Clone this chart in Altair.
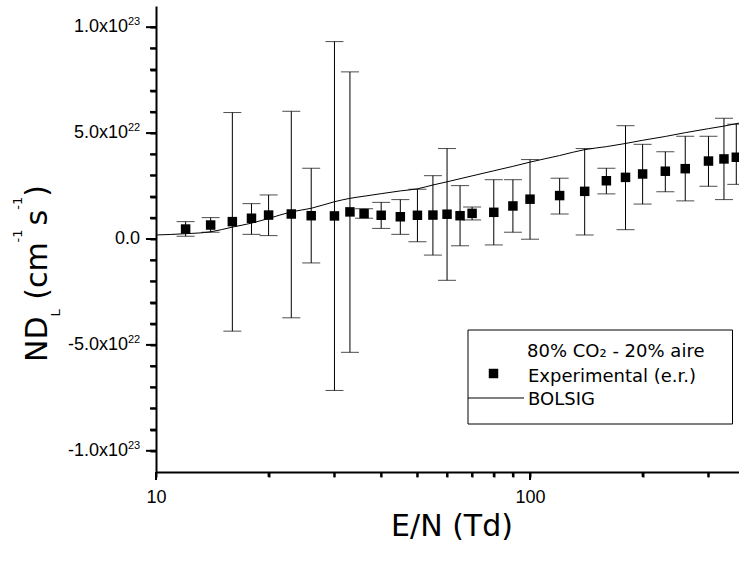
import altair as alt
import pandas as pd

UNIT = 1e22  # values below are in units of 1e22 cm^-1 s^-1

# Experimental points (E/N in Td, ND_L and error-bar ends in 1e22)
exp_en = [12, 14, 16, 18, 20, 23, 26, 30, 33, 36, 40, 45, 50, 55, 60, 65, 70, 80, 90, 100,
          120, 140, 160, 180, 200, 230, 260, 300, 330, 356]
exp_nd = [0.47, 0.66, 0.82, 0.98, 1.13, 1.18, 1.10, 1.09, 1.28, 1.20, 1.12, 1.05, 1.12, 1.13, 1.17,
          1.10, 1.21, 1.26, 1.56, 1.88, 2.05, 2.25, 2.75, 2.91, 3.07, 3.20, 3.32, 3.68, 3.78, 3.86]
exp_hi = [0.82, 1.01, 5.97, 1.67, 2.08, 6.03, 3.34, 9.32, 7.89, 1.43, 1.73, 1.86, 2.35, 2.99, 4.27,
          2.52, 1.51, 2.80, 2.80, 3.75, 2.87, 4.27, 3.34, 5.35, 4.47, 4.12, 4.85, 4.85, 5.70, 5.42]
exp_lo = [0.13, 0.32, -4.35, 0.22, 0.16, -3.72, -1.13, -7.15, -5.35, 0.98, 0.50, 0.22, -0.13, -0.76,
          -1.95, -0.32, 0.90, -0.28, 0.32, -0.01, 1.18, 0.19, 2.13, 0.44, 1.65, 2.23, 1.80, 2.49, 1.86, 2.58]

# BOLSIG curve
bolsig_en = [10, 12, 14, 16, 18, 20, 23, 26, 30, 33, 36, 40, 45, 50, 55, 60, 70, 80, 90, 100,
             120, 140, 160, 180, 200, 230, 260, 300, 330, 362]
bolsig_nd = [0.19, 0.25, 0.34, 0.56, 0.75, 0.97, 1.28, 1.45, 1.76, 1.92, 2.02, 2.14, 2.27, 2.37, 2.55,
             2.70, 2.98, 3.22, 3.43, 3.63, 3.94, 4.22, 4.36, 4.51, 4.66, 4.84, 5.02, 5.21, 5.33, 5.47]

# axis ticks and labels
x_ticks = [10, 20, 30, 40, 50, 60, 70, 80, 90, 100, 200, 300]
x_major = [10, 100]
y_ticks = [k * UNIT for k in range(-10, 11)]
y_major = [k * UNIT for k in (-10, -5, 0, 5, 10)]
ylab_values = [10 * UNIT, 5 * UNIT, -5 * UNIT, -10 * UNIT]
ylab_mantissa = ["1.0x10", "5.0x10", "-5.0x10", "-1.0x10"]
ylab_exponent = ["23", "22", "22", "23"]
ylab_zero = ["0.0"]

legend_title = "80% CO\u2082 - 20% aire"
legend_exp = "Experimental (e.r.)"
legend_bol = "BOLSIG"

exp_df = pd.DataFrame({
    "en": exp_en,
    "nd": [v * UNIT for v in exp_nd],
    "hi": [v * UNIT for v in exp_hi],
    "lo": [v * UNIT for v in exp_lo],
})
bol_df = pd.DataFrame({"en": bolsig_en, "nd": [v * UNIT for v in bolsig_nd]})
ylab_df = pd.DataFrame({"yv": ylab_values, "m": ylab_mantissa, "e": ylab_exponent})
zero_df = pd.DataFrame({"yv": [0.0], "m": ylab_zero})
ymaj_df = pd.DataFrame({"ym": y_major})
ymin_df = pd.DataFrame({"yt": y_ticks})
xmaj_df = pd.DataFrame({"xm": x_major})
xmin_df = pd.DataFrame({"xt": x_ticks})
one = pd.DataFrame({"a": [0]})

W, H = 583, 466
TITLE_FONT = "DejaVu Sans"
TICK_FONT = "Liberation Sans"

xscale = alt.Scale(type="log", domain=[10, 362], nice=False)
yscale = alt.Scale(domain=[-1.1e23, 1.1e23], nice=False, zero=False)

xaxis = alt.Axis(
    values=x_ticks, title="", grid=False,
    labelExpr="(datum.value == 10 || datum.value == 100) ? format(datum.value, 'd') : ''",
    tickSize=5, zindex=1,
    labelFont=TICK_FONT, labelFontSize=18, labelColor="black", labelPadding=11,
    domainColor="black", domainWidth=2, tickColor="black", tickWidth=2,
    labelFlush=False, labelOverlap=False,
)
yaxis = alt.Axis(
    values=y_ticks, title="", grid=False, labels=False,
    tickSize=6, zindex=1,
    domainColor="black", domainWidth=2, tickColor="black", tickWidth=2,
)


def X(field):
    return alt.X(field, type="quantitative", scale=xscale, axis=xaxis)


def Y(field):
    return alt.Y(field, type="quantitative", scale=yscale, axis=yaxis)


bars = alt.Chart(exp_df).mark_rule(color="black", strokeWidth=1).encode(
    x=X("en"), y=Y("lo"), y2="hi:Q")
cap_hi = alt.Chart(exp_df).mark_tick(orient="horizontal", size=18, thickness=1, color="black").encode(
    x=X("en"), y=Y("hi"))
cap_lo = alt.Chart(exp_df).mark_tick(orient="horizontal", size=18, thickness=1, color="black").encode(
    x=X("en"), y=Y("lo"))
squares = alt.Chart(exp_df).mark_square(size=90, color="black", opacity=1, filled=True).encode(
    x=X("en"), y=Y("nd"))
line = alt.Chart(bol_df).mark_line(color="black", strokeWidth=1, interpolate="monotone").encode(
    x=X("en"), y=Y("nd"))

# tick marks (Origin style: longer major ticks), drawn through the scales
ymin = alt.Chart(ymin_df).mark_rule(color="black", strokeWidth=2).encode(
    y=Y("yt"), x=alt.value(-6), x2=alt.value(0))
ymaj = alt.Chart(ymaj_df).mark_rule(color="black", strokeWidth=2).encode(
    y=Y("ym"), x=alt.value(-10), x2=alt.value(0))
xmin = alt.Chart(xmin_df).mark_rule(color="black", strokeWidth=2).encode(
    x=X("xt"), y=alt.value(H), y2=alt.value(H + 5))
xmaj = alt.Chart(xmaj_df).mark_rule(color="black", strokeWidth=2).encode(
    x=X("xm"), y=alt.value(H), y2=alt.value(H + 8))

# y tick labels with superscript exponents, placed through the y scale
ylab_main = alt.Chart(ylab_df).mark_text(font=TICK_FONT, fontSize=18, align="right",
                                         baseline="middle", color="black").encode(
    x=alt.value(-28), y=Y("yv"), text="m:N")
ylab_sup = alt.Chart(ylab_df).mark_text(font=TICK_FONT, fontSize=11, align="left",
                                        baseline="middle", dy=-5, color="black").encode(
    x=alt.value(-28), y=Y("yv"), text="e:N")
ylab_0 = alt.Chart(zero_df).mark_text(font=TICK_FONT, fontSize=18, align="right",
                                      baseline="middle", color="black").encode(
    x=alt.value(-16), y=Y("yv"), text="m:N")

# legend (manual box like Origin)
leg_box = alt.Chart(one).mark_rect(fill="white", stroke="black", strokeWidth=1).encode(
    x=alt.value(312), x2=alt.value(576.5), y=alt.value(324), y2=alt.value(418))
leg_t1 = alt.Chart(one).mark_text(text=legend_title, font=TITLE_FONT, fontSize=18, align="left",
                                  baseline="alphabetic", color="black").encode(
    x=alt.value(371), y=alt.value(351))
leg_t2 = alt.Chart(one).mark_text(text=legend_exp, font=TITLE_FONT, fontSize=18, align="left",
                                  baseline="alphabetic", color="black").encode(
    x=alt.value(372), y=alt.value(375.5))
leg_t3 = alt.Chart(one).mark_text(text=legend_bol, font=TITLE_FONT, fontSize=18, align="left",
                                  baseline="alphabetic", color="black").encode(
    x=alt.value(372), y=alt.value(399))
leg_sq = alt.Chart(one).mark_square(size=90, color="black", opacity=1, filled=True).encode(
    x=alt.value(337.5), y=alt.value(367.5))
leg_ln = alt.Chart(one).mark_rule(color="black", strokeWidth=1).encode(
    x=alt.value(312), x2=alt.value(368), y=alt.value(392))

# axis titles
xtitle = alt.Chart(one).mark_text(text="E/N (Td)", font=TITLE_FONT, fontSize=30, align="center",
                                  baseline="alphabetic", color="black").encode(
    x=alt.value(296), y=alt.value(530))


def ypiece(txt, x, y, size):
    return alt.Chart(one).mark_text(text=txt, font=TITLE_FONT, fontSize=size, align="left",
                                    baseline="alphabetic", angle=270, color="black").encode(
        x=alt.value(x), y=alt.value(y))


ytitle = [
    ypiece("ND", -109, 356, 30),
    ypiece("L", -96, 310.5, 13),
    ypiece("(cm", -109, 293.8, 30),
    ypiece("-1", -134, 236.4, 13),
    ypiece("s", -109, 219.4, 30),
    ypiece("-1", -134, 203.8, 13),
    ypiece(")", -109, 190.8, 30),
]

chart = alt.layer(
    bars, cap_hi, cap_lo, line, squares,
    leg_box, leg_t1, leg_t2, leg_t3, leg_sq, leg_ln,
    ylab_main, ylab_sup, ylab_0,
    xtitle, *ytitle,
    ymin, ymaj, xmin, xmaj,
).properties(
    width=W, height=H,
    autosize=alt.AutoSizeParams(type="none"),
    padding={"left": 156, "top": 6, "right": 0, "bottom": 91},
    background="white",
).configure_view(strokeWidth=0)

chart.save("out.html", embed_options={"renderer": "svg", "actions": False})
